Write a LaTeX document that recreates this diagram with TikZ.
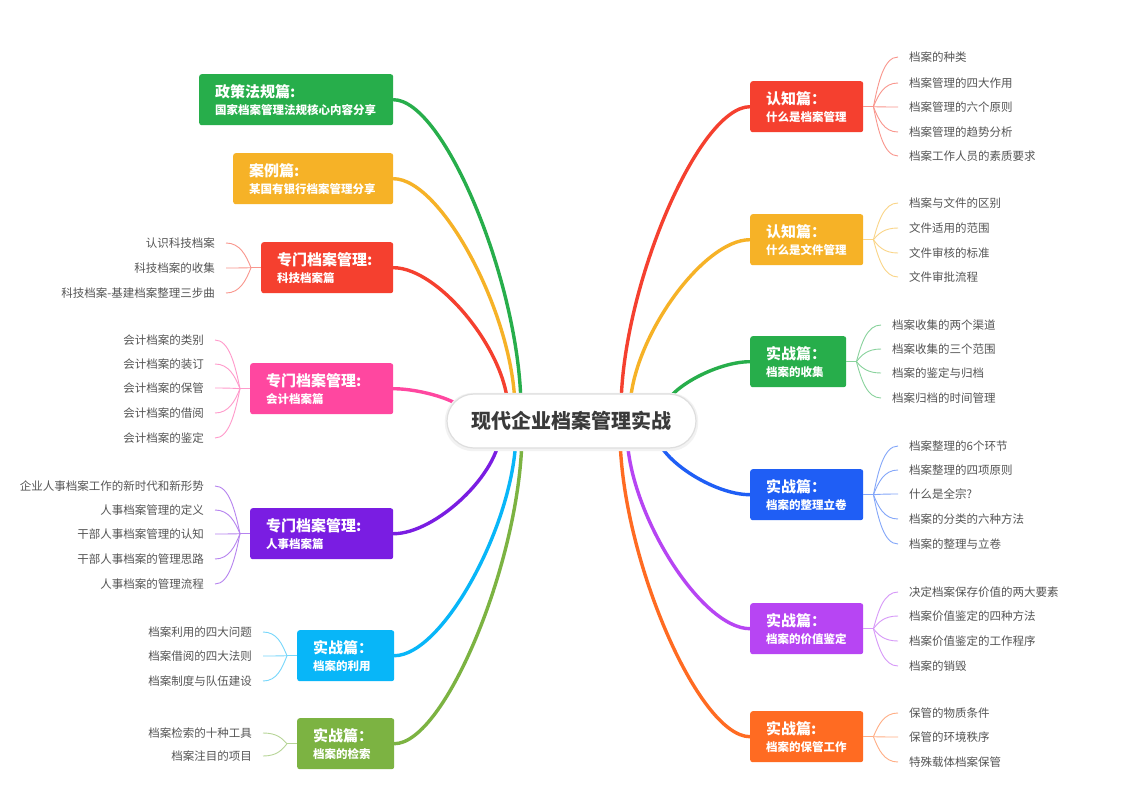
\documentclass[tikz,border=0pt]{standalone}
\usepackage{fontspec}
\setmainfont{Noto Sans CJK SC}
\usetikzlibrary{calc,backgrounds}
\definecolor{cRed}{HTML}{F5402F}
\definecolor{cOrg}{HTML}{F6B227}
\definecolor{cGrn}{HTML}{27AE4B}
\definecolor{cPink}{HTML}{FF47A0}
\definecolor{cPur}{HTML}{7A1DE2}
\definecolor{cCyan}{HTML}{08B6F8}
\definecolor{cOlive}{HTML}{7CB342}
\definecolor{cBlue}{HTML}{1F5EF5}
\definecolor{cVio}{HTML}{B745F3}
\definecolor{cOrgB}{HTML}{FF6B22}
\definecolor{leafgray}{HTML}{555555}
\definecolor{centertext}{HTML}{3A3A3A}
\newcommand\ttl[1]{{\fontsize{15}{17}\selectfont #1}}
\newcommand\branch[3]{\draw[mainline,#3] (#1) .. controls ($(#1)!0.4!(#1|-#2)$) and ($(#1|-#2)!0.6!(#2)$) .. (#2);}
\newcommand\leafR[3]{\draw[leafline,#3] (#1) .. controls ($(#1)!0.5!(#1|-#2.west)+(5,0)$) and ($(#2.west)+(-14,0)$) .. (#2.west);}
\newcommand\leafL[3]{\draw[leafline,#3] (#1) .. controls ($(#1)!0.5!(#1|-#2.east)+(-5,0)$) and ($(#2.east)+(14,0)$) .. (#2.east);}
\tikzset{
  box/.style={rectangle, rounded corners=2.5pt, anchor=north west, minimum height=51pt,
    inner xsep=16pt, inner ysep=0pt, align=left, text=white,
    font=\fontsize{11.5}{17}\selectfont\bfseries},
  leafR/.style={anchor=west, inner xsep=11pt, inner ysep=1pt, text=leafgray,
    font=\fontsize{11.5}{13}\selectfont},
  leafL/.style={leafR, anchor=east},
  mainline/.style={line width=3.4pt, line cap=round},
  leafline/.style={line width=0.9pt},
  pill/.style={rectangle, rounded corners=27pt, minimum width=249pt, minimum height=54pt,
    fill=white, draw=black!13, line width=1.2pt, text=centertext,
    font=\fontsize{20}{22}\selectfont\bfseries}
}
\begin{document}
\begin{tikzpicture}[x=1pt,y=-1pt]
\useasboundingbox (0,0) rectangle (1140,795);
% centre
\node[pill] (c) at (571.5,421) {现代企业档案管理实战};
% right boxes
\node[box, fill=cRed,  text width=81pt] (r1) at (750,81)  {\ttl{认知篇：}\\什么是档案管理};
\node[box, fill=cOrg,  text width=81pt] (r2) at (750,214) {\ttl{认知篇：}\\什么是文件管理};
\node[box, fill=cGrn,  text width=64pt] (r3) at (750,336) {\ttl{实战篇：}\\档案的收集};
\node[box, fill=cBlue, text width=81pt] (r4) at (750,469) {\ttl{实战篇：}\\档案的整理立卷};
\node[box, fill=cVio,  text width=81pt] (r5) at (750,603) {\ttl{实战篇：}\\档案的价值鉴定};
\node[box, fill=cOrgB, text width=81pt] (r6) at (750,711) {\ttl{实战篇:}\\档案的保管工作};
% left boxes
\node[box, fill=cGrn,   text width=162pt] (l1) at (199,74)  {\ttl{政策法规篇:}\\国家档案管理法规核心内容分享};
\node[box, fill=cOrg,   text width=128pt] (l2) at (233,153) {\ttl{案例篇:}\\某国有银行档案管理分享};
\node[box, fill=cRed,   text width=100pt] (l3) at (261,242) {\ttl{专门档案管理:}\\科技档案篇};
\node[box, fill=cPink,  text width=111pt] (l4) at (250,363) {\ttl{专门档案管理:}\\会计档案篇};
\node[box, fill=cPur,   text width=111pt] (l5) at (250,508) {\ttl{专门档案管理:}\\人事档案篇};
\node[box, fill=cCyan,  text width=65pt]  (l6) at (297,630) {\ttl{实战篇：}\\档案的利用};
\node[box, fill=cOlive, text width=65pt]  (l7) at (297,718) {\ttl{实战篇：}\\档案的检索};
% branch start points
\coordinate (sR1) at (621,410);
\coordinate (sR2) at (630,410);
\coordinate (sR3) at (664,410);
\coordinate (sR4) at (656,432);
\coordinate (sR5) at (627,432);
\coordinate (sR6) at (620,432);
\coordinate (sL1) at (521,410);
\coordinate (sL2) at (515,410);
\coordinate (sL3) at (508,410);
\coordinate (sL4) at (462,410);
\coordinate (sL5) at (500,432);
\coordinate (sL6) at (516,432);
\coordinate (sL7) at (522,432);
\begin{pgfonlayer}{background}
\fill[white] (0,0) rectangle (1140,795);
\branch{sR1}{r1.west}{cRed}
\branch{sR2}{r2.west}{cOrg}
\branch{sR3}{r3.west}{cGrn}
\branch{sR4}{r4.west}{cBlue}
\branch{sR5}{r5.west}{cVio}
\branch{sR6}{r6.west}{cOrgB}
\branch{sL1}{l1.east}{cGrn}
\branch{sL2}{l2.east}{cOrg}
\branch{sL3}{l3.east}{cRed}
\branch{sL4}{l4.east}{cPink}
\branch{sL5}{l5.east}{cPur}
\branch{sL6}{l6.east}{cCyan}
\branch{sL7}{l7.east}{cOlive}
\end{pgfonlayer}
\fill[black!5, rounded corners=28pt] ($(c.south west)+(-1.5,2.5)$) rectangle ($(c.north east)+(1.5,-0.5)$);
\node[pill] at (c) {现代企业档案管理实战};
% fan points
\foreach \b in {r1,r2,r3,r4,r5,r6}{\coordinate (\b f) at ($(\b.east)+(10,0)$);}
\foreach \b in {l3,l4,l5,l6,l7}{\coordinate (\b f) at ($(\b.west)+(-10,0)$);}
% right leaves
\node[leafR] (r1a) at (898,57)  {档案的种类};
\node[leafR] (r1b) at (898,83)  {档案管理的四大作用};
\node[leafR] (r1c) at (898,107) {档案管理的六个原则};
\node[leafR] (r1d) at (898,132) {档案管理的趋势分析};
\node[leafR] (r1e) at (898,156) {档案工作人员的素质要求};
\node[leafR] (r2a) at (898,203) {档案与文件的区别};
\node[leafR] (r2b) at (898,228) {文件适用的范围};
\node[leafR] (r2c) at (898,253) {文件审核的标准};
\node[leafR] (r2d) at (898,277) {文件审批流程};
\node[leafR] (r3a) at (881,325) {档案收集的两个渠道};
\node[leafR] (r3b) at (881,349) {档案收集的三个范围};
\node[leafR] (r3c) at (881,373) {档案的鉴定与归档};
\node[leafR] (r3d) at (881,398) {档案归档的时间管理};
\node[leafR] (r4a) at (898,446) {档案整理的6个环节};
\node[leafR] (r4b) at (898,470) {档案整理的四项原则};
\node[leafR] (r4c) at (898,494) {什么是全宗?};
\node[leafR] (r4d) at (898,519) {档案的分类的六种方法};
\node[leafR] (r4e) at (898,544) {档案的整理与立卷};
\node[leafR] (r5a) at (898,592) {决定档案保存价值的两大要素};
\node[leafR] (r5b) at (898,616) {档案价值鉴定的四种方法};
\node[leafR] (r5c) at (898,641) {档案价值鉴定的工作程序};
\node[leafR] (r5d) at (898,666) {档案的销毁};
\node[leafR] (r6a) at (898,713) {保管的物质条件};
\node[leafR] (r6b) at (898,737) {保管的环境秩序};
\node[leafR] (r6c) at (898,762) {特殊载体档案保管};
% left leaves
\node[leafL] (l3a) at (226,243) {认识科技档案};
\node[leafL] (l3b) at (226,268) {科技档案的收集};
\node[leafL] (l3c) at (226,293) {科技档案-基建档案整理三步曲};
\node[leafL] (l4a) at (215,340) {会计档案的类别};
\node[leafL] (l4b) at (215,364) {会计档案的装订};
\node[leafL] (l4c) at (215,388) {会计档案的保管};
\node[leafL] (l4d) at (215,413) {会计档案的借阅};
\node[leafL] (l4e) at (215,438) {会计档案的鉴定};
\node[leafL] (l5a) at (215,486) {企业人事档案工作的新时代和新形势};
\node[leafL] (l5b) at (215,510) {人事档案管理的定义};
\node[leafL] (l5c) at (215,534) {干部人事档案管理的认知};
\node[leafL] (l5d) at (215,559) {干部人事档案的管理思路};
\node[leafL] (l5e) at (215,584) {人事档案的管理流程};
\node[leafL] (l6a) at (263,632) {档案利用的四大问题};
\node[leafL] (l6b) at (263,656) {档案借阅的四大法则};
\node[leafL] (l6c) at (263,681) {档案制度与队伍建设};
\node[leafL] (l7a) at (263,733) {档案检索的十种工具};
\node[leafL] (l7b) at (263,756) {档案注目的项目};
% stubs
\draw[leafline,cRed!55!white]  (r1.east) -- (r1f);
\draw[leafline,cOrg!55!white]  (r2.east) -- (r2f);
\draw[leafline,cGrn!55!white]  (r3.east) -- (r3f);
\draw[leafline,cBlue!55!white] (r4.east) -- (r4f);
\draw[leafline,cVio!55!white]  (r5.east) -- (r5f);
\draw[leafline,cOrgB!55!white] (r6.east) -- (r6f);
\draw[leafline,cRed!55!white]  (l3.west) -- (l3f);
\draw[leafline,cPink!55!white] (l4.west) -- (l4f);
\draw[leafline,cPur!55!white]  (l5.west) -- (l5f);
\draw[leafline,cCyan!55!white] (l6.west) -- (l6f);
\draw[leafline,cOlive!55!white] (l7.west) -- (l7f);
% leaf connectors
\foreach \l in {a,b,c,d,e}{\leafR{r1f}{r1\l}{cRed!55!white}}
\foreach \l in {a,b,c,d}{\leafR{r2f}{r2\l}{cOrg!55!white}}
\foreach \l in {a,b,c,d}{\leafR{r3f}{r3\l}{cGrn!55!white}}
\foreach \l in {a,b,c,d,e}{\leafR{r4f}{r4\l}{cBlue!55!white}}
\foreach \l in {a,b,c,d}{\leafR{r5f}{r5\l}{cVio!55!white}}
\foreach \l in {a,b,c}{\leafR{r6f}{r6\l}{cOrgB!55!white}}
\foreach \l in {a,b,c}{\leafL{l3f}{l3\l}{cRed!55!white}}
\foreach \l in {a,b,c,d,e}{\leafL{l4f}{l4\l}{cPink!55!white}}
\foreach \l in {a,b,c,d,e}{\leafL{l5f}{l5\l}{cPur!55!white}}
\foreach \l in {a,b,c}{\leafL{l6f}{l6\l}{cCyan!55!white}}
\foreach \l in {a,b}{\leafL{l7f}{l7\l}{cOlive!55!white}}
\end{tikzpicture}
\end{document}
